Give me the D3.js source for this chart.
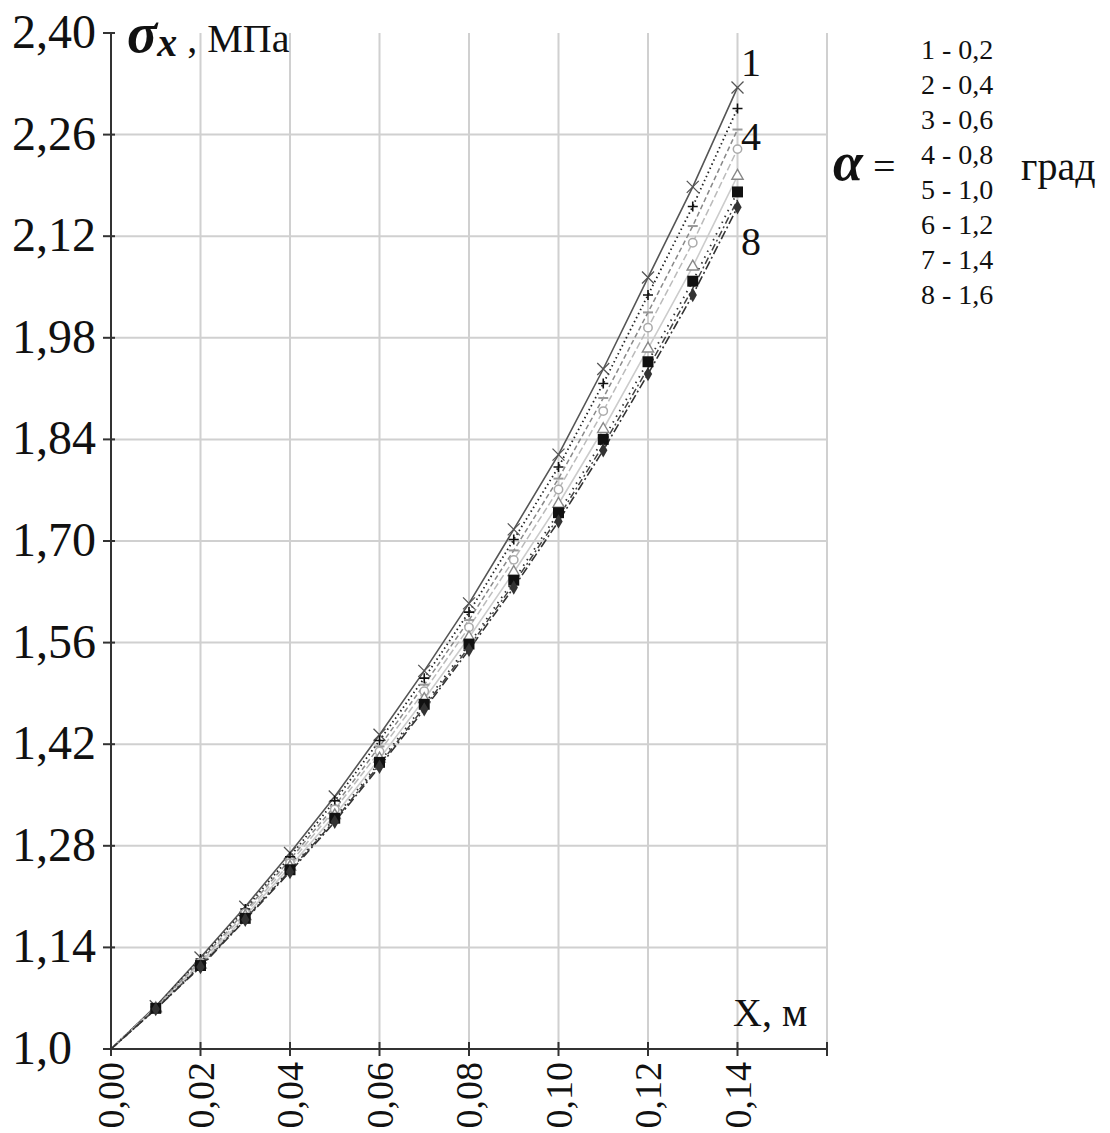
<!DOCTYPE html>
<html>
<head>
<meta charset="utf-8">
<script src="https://cdn.jsdelivr.net/npm/d3@7"></script>
<style>
  body { margin: 0; background: #fff; }
  text { font-family: "Liberation Serif", "Times New Roman", serif; fill: #111; }
</style>
</head>
<body>
<svg id="chart"></svg>
<script>
// x positions, m
var xValues = [0, 0.01, 0.02, 0.03, 0.04, 0.05, 0.06, 0.07, 0.08, 0.09, 0.10, 0.11, 0.12, 0.13, 0.14];

// sigma_x, MPa, one array per angle alpha
var s1 = [1.000, 1.059, 1.126, 1.196, 1.270, 1.348, 1.433, 1.521, 1.614, 1.716, 1.819, 1.937, 2.063, 2.188, 2.325];
var s2 = [1.000, 1.058, 1.124, 1.193, 1.265, 1.342, 1.425, 1.511, 1.602, 1.702, 1.802, 1.917, 2.039, 2.161, 2.296];
var s3 = [1.000, 1.058, 1.121, 1.190, 1.261, 1.335, 1.417, 1.502, 1.591, 1.687, 1.786, 1.897, 2.015, 2.134, 2.267];
var s4 = [1.000, 1.057, 1.119, 1.187, 1.256, 1.330, 1.410, 1.493, 1.581, 1.674, 1.771, 1.879, 1.994, 2.111, 2.240];
var s5 = [1.000, 1.056, 1.116, 1.183, 1.251, 1.322, 1.400, 1.482, 1.567, 1.657, 1.751, 1.854, 1.965, 2.078, 2.203];
var s6 = [1.000, 1.056, 1.115, 1.180, 1.247, 1.318, 1.395, 1.475, 1.558, 1.646, 1.739, 1.840, 1.947, 2.058, 2.181];
var s7 = [1.000, 1.055, 1.114, 1.179, 1.246, 1.315, 1.392, 1.471, 1.554, 1.641, 1.733, 1.832, 1.938, 2.048, 2.170];
var s8 = [1.000, 1.055, 1.113, 1.178, 1.244, 1.313, 1.389, 1.468, 1.550, 1.636, 1.727, 1.825, 1.930, 2.039, 2.160];

var seriesNames = ["1", "2", "3", "4", "5", "6", "7", "8"];
var alphaLabels = ["1 - 0,2", "2 - 0,4", "3 - 0,6", "4 - 0,8", "5 - 1,0", "6 - 1,2", "7 - 1,4", "8 - 1,6"];
var curveLabels = ["1", "4", "8"];

var xTicks = [0, 0.02, 0.04, 0.06, 0.08, 0.10, 0.12, 0.14, 0.16];
var xTickLabels = ["0,00", "0,02", "0,04", "0,06", "0,08", "0,10", "0,12", "0,14", ""];
var yTicks = [1.0, 1.14, 1.28, 1.42, 1.56, 1.70, 1.84, 1.98, 2.12, 2.26, 2.40];
var yTickLabels = ["1,0", "1,14", "1,28", "1,42", "1,56", "1,70", "1,84", "1,98", "2,12", "2,26", "2,40"];

var width = 1110, height = 1133;
var margins = { left: 111, right: 283, top: 33, bottom: 84 };

var svg = d3.select("svg#chart").attr("width", width).attr("height", height);

var xScale = d3.scaleLinear().domain([0, 0.16]).range([margins.left, width - margins.right]);
var yScale = d3.scaleLinear().domain([1.0, 2.4]).range([height - margins.bottom, margins.top]);

var allSeries = [s1, s2, s3, s4, s5, s6, s7, s8].map(function (vals, i) {
  return { name: seriesNames[i], points: vals.map(function (v, j) { return { x: xValues[j], y: v }; }) };
});

// line look per series (grayscale print style)
var lineStyles = [
  { stroke: "#555", dash: null, w: 1.6 },
  { stroke: "#222", dash: "1.5 3", w: 1.8 },
  { stroke: "#888", dash: "5 3", w: 1.5 },
  { stroke: "#bbb", dash: "7 3", w: 1.5 },
  { stroke: "#ccc", dash: null, w: 1.6 },
  { stroke: "#333", dash: "1.5 5", w: 1.8 },
  { stroke: "#444", dash: "7 3 2 3", w: 1.5 },
  { stroke: "#333", dash: "9 3 2 3", w: 1.6 }
];

// grid
var grid = svg.append("g").attr("id", "grid");
grid.selectAll("line.v")
  .data(xTicks.slice(1))
  .join("line")
  .attr("class", "v")
  .attr("x1", function (d) { return xScale(d); })
  .attr("x2", function (d) { return xScale(d); })
  .attr("y1", yScale(2.4))
  .attr("y2", yScale(1.0))
  .attr("stroke", "#d0d0d0")
  .attr("stroke-width", 2);

grid.selectAll("line.h")
  .data(yTicks.slice(1, -1))
  .join("line")
  .attr("class", "h")
  .attr("x1", xScale(0))
  .attr("x2", xScale(0.16))
  .attr("y1", function (d) { return yScale(d); })
  .attr("y2", function (d) { return yScale(d); })
  .attr("stroke", "#d0d0d0")
  .attr("stroke-width", 2);

// curves
var line = d3.line()
  .x(function (d) { return xScale(d.x); })
  .y(function (d) { return yScale(d.y); });

var curvesGroup = svg.append("g").attr("id", "curves");
curvesGroup.selectAll("path")
  .data(allSeries)
  .join("path")
  .attr("d", function (d) { return line(d.points); })
  .attr("fill", "none")
  .attr("stroke", function (d, i) { return lineStyles[i].stroke; })
  .attr("stroke-width", function (d, i) { return lineStyles[i].w; })
  .attr("stroke-dasharray", function (d, i) { return lineStyles[i].dash; });

// markers
var markerGroup = svg.append("g").attr("id", "markers");
var sym = d3.symbol();

function drawMarkers(series, kind) {
  var g = markerGroup.append("g").attr("class", "m" + series.name);
  var pts = series.points.slice(1);
  var sel = g.selectAll("path").data(pts).join("path")
    .attr("transform", function (d) { return "translate(" + xScale(d.x) + "," + yScale(d.y) + ")"; });
  switch (kind) {
    case "cross":
      sel.attr("d", "M-6,-6L6,6M-6,6L6,-6").attr("stroke", "#555").attr("stroke-width", 1.3).attr("fill", "none");
      break;
    case "plus":
      sel.attr("d", "M-5,0L5,0M0,-5L0,5").attr("stroke", "#111").attr("stroke-width", 1.6).attr("fill", "none");
      break;
    case "dash":
      sel.attr("d", "M-5,0L5,0").attr("stroke", "#999").attr("stroke-width", 2).attr("fill", "none");
      break;
    case "circle":
      sel.attr("d", sym.type(d3.symbolCircle).size(55)()).attr("stroke", "#aaa").attr("stroke-width", 1.5).attr("fill", "#fff");
      break;
    case "triangle":
      sel.attr("d", sym.type(d3.symbolTriangle).size(55)()).attr("stroke", "#888").attr("stroke-width", 1.4).attr("fill", "#fff");
      break;
    case "square":
      sel.attr("d", sym.type(d3.symbolSquare).size(120)()).attr("fill", "#111");
      break;
    case "diamond":
      sel.attr("d", sym.type(d3.symbolDiamond).size(60)()).attr("fill", "#333");
      break;
    default:
      break;
  }
}

var markerKinds = ["cross", "plus", "dash", "circle", "triangle", "square", null, "diamond"];
allSeries.forEach(function (s, i) {
  if (markerKinds[i]) drawMarkers(s, markerKinds[i]);
});

// axes
var axes = svg.append("g").attr("id", "axes");
axes.append("line")
  .attr("x1", xScale(0)).attr("x2", xScale(0.16))
  .attr("y1", yScale(1.0)).attr("y2", yScale(1.0))
  .attr("stroke", "#333").attr("stroke-width", 2);
axes.append("line")
  .attr("x1", xScale(0)).attr("x2", xScale(0))
  .attr("y1", yScale(2.4)).attr("y2", yScale(1.0))
  .attr("stroke", "#333").attr("stroke-width", 2);

axes.selectAll("line.xt")
  .data(xTicks)
  .join("line")
  .attr("class", "xt")
  .attr("x1", function (d) { return xScale(d); })
  .attr("x2", function (d) { return xScale(d); })
  .attr("y1", yScale(1.0) - 7)
  .attr("y2", yScale(1.0) + 7)
  .attr("stroke", "#333").attr("stroke-width", 2);

axes.selectAll("line.yt")
  .data(yTicks)
  .join("line")
  .attr("class", "yt")
  .attr("x1", xScale(0) - 8)
  .attr("x2", xScale(0) + 4)
  .attr("y1", function (d) { return yScale(d); })
  .attr("y2", function (d) { return yScale(d); })
  .attr("stroke", "#333").attr("stroke-width", 2);

// y tick labels
axes.selectAll("text.yl")
  .data(yTicks)
  .join("text")
  .attr("class", "yl")
  .attr("x", 12)
  .attr("y", function (d) { return yScale(d) + 15; })
  .attr("font-size", 48)
  .text(function (d, i) { return yTickLabels[i]; });

// x tick labels, rotated
axes.selectAll("text.xl")
  .data(xTicks)
  .join("text")
  .attr("class", "xl")
  .attr("transform", function (d) { return "translate(" + (xScale(d) + 13) + "," + (yScale(1.0) + 13) + ") rotate(-90)"; })
  .attr("text-anchor", "end")
  .attr("font-size", 38)
  .text(function (d, i) { return xTickLabels[i]; });

// axis titles
var yTitle = svg.append("text").attr("x", 127).attr("y", 52);
yTitle.append("tspan").attr("font-size", 56).attr("font-weight", "bold").attr("font-style", "italic").text("σ");
yTitle.append("tspan").attr("font-size", 40).attr("font-weight", "bold").attr("font-style", "italic").attr("dy", 4).text("x");
yTitle.append("tspan").attr("font-size", 40).attr("dy", -4).text(" , МПа");

svg.append("text")
  .attr("x", 733).attr("y", 1026)
  .attr("font-size", 40)
  .text("X, м");

// curve numbers at right end
svg.selectAll("text.cl")
  .data(curveLabels)
  .join("text")
  .attr("class", "cl")
  .attr("x", 741)
  .attr("y", function (d, i) { return [76, 150, 255][i]; })
  .attr("font-size", 40)
  .text(function (d) { return d; });

// alpha legend
var legend = svg.append("g").attr("id", "legend");
legend.selectAll("text")
  .data(alphaLabels)
  .join("text")
  .attr("x", 921)
  .attr("y", function (d, i) { return 59 + i * 35; })
  .attr("font-size", 28)
  .text(function (d) { return d; });

var alphaText = svg.append("text").attr("x", 833).attr("y", 180);
alphaText.append("tspan").attr("font-size", 54).attr("font-weight", "bold").attr("font-style", "italic").text("α");
alphaText.append("tspan").attr("font-size", 40).text(" =");

svg.append("text")
  .attr("x", 1021).attr("y", 180)
  .attr("font-size", 40)
  .text("град");
</script>
</body>
</html>
